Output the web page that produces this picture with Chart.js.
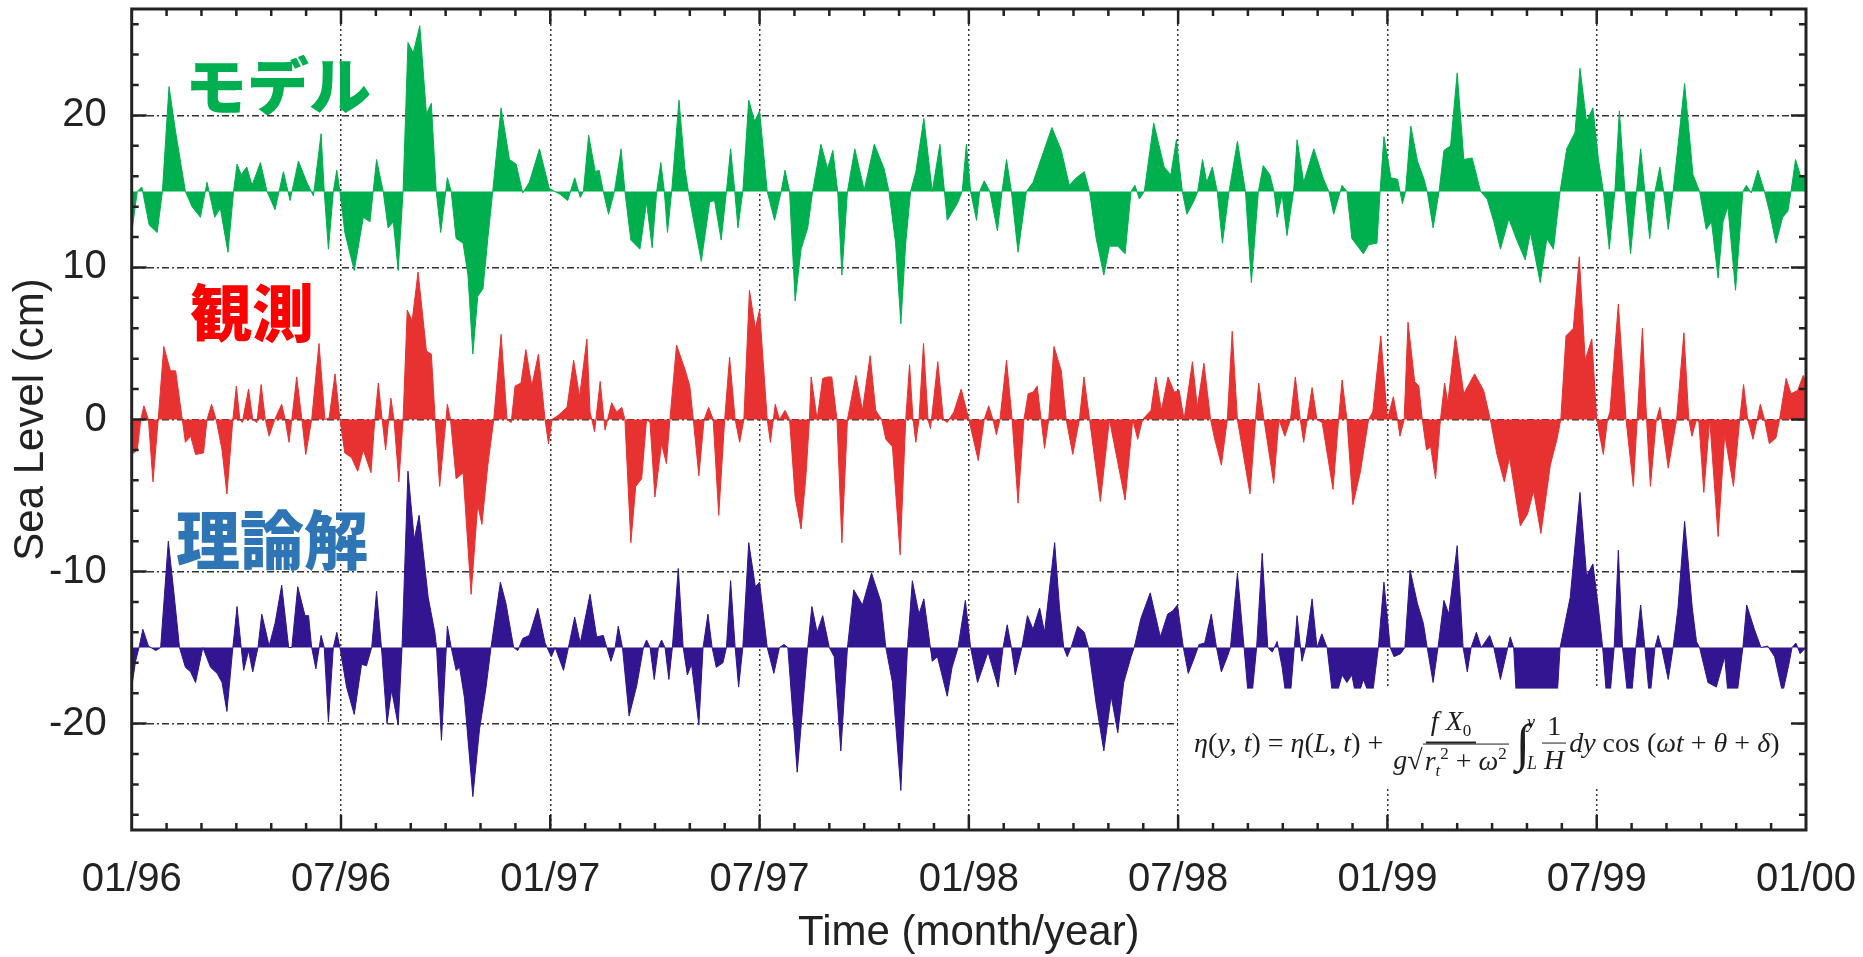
<!DOCTYPE html>
<html>
<head>
<meta charset="utf-8">
<script src="https://cdn.jsdelivr.net/npm/chart.js@4/dist/chart.umd.min.js"></script>
<style>
  html, body { margin: 0; padding: 0; background: #fff; }
  #wrap { position: relative; width: 1863px; height: 957px; }
  #wrap canvas { position: absolute; left: 0; top: 0; }
  .tag { position: absolute; font-family: "Noto Sans CJK JP", sans-serif; font-weight: 900; line-height: 1; white-space: nowrap; }
  #formula { position: absolute; left: 1194px; top: 743px; transform: translateY(-50%);
    font-family: "Liberation Serif", serif; font-size: 28px; color: #1e1e1e;
    display: flex; align-items: center; white-space: nowrap; }
  #formula i { font-style: italic; }
  .frac { display: inline-flex; flex-direction: column; align-items: center; margin: 0 3px; line-height: 1.1; }
  .frac .num { border-bottom: 2px solid #1e1e1e; padding: 0 5px 1px; }
  .frac .den { padding-top: 1px; }
  .rad { border-top: 1.5px solid #1e1e1e; padding: 0 2px; }
  .intg { display: inline-flex; align-items: center; margin: 0 2px 0 4px; }
  .intg .sym { font-size: 52px; line-height: 1; }
  .intg .lim { display: inline-flex; flex-direction: column; font-size: 18px; font-style: italic; margin-left: -3px; }
  sub, sup { font-size: 17px; }
</style>
</head>
<body>
<div id="wrap">
  <canvas id="chart" width="1863" height="957"></canvas>
  <div class="tag" style="left:185px; top:52px; font-size:62px; color:#00B050;">モデル</div>
  <div class="tag" style="left:190px; top:279px; font-size:62px; color:#FF0000;">観測</div>
  <div class="tag" style="left:176px; top:504px; font-size:64px; color:#2E75B6;">理論解</div>
  <div id="formula">
    <span><i>η</i>(<i>y</i>, <i>t</i>) = <i>η</i>(<i>L</i>, <i>t</i>) +&nbsp;</span>
    <span class="frac">
      <span class="num"><i>f X</i><sub>0</sub></span>
      <span class="den"><i>g</i>√<span class="rad"><i>r</i><sub><i>t</i></sub><sup>2</sup> + <i>ω</i><sup>2</sup></span></span>
    </span>
    <span class="intg"><span class="sym">∫</span><span class="lim"><span>y</span><span style="margin-top:20px">L</span></span></span>
    <span class="frac"><span class="num" style="border-bottom-width:1.5px">1</span><span class="den"><i>H</i></span></span>
    <span><i>dy</i> cos (<i>ωt</i> + <i>θ</i> + <i>δ</i>)</span>
  </div>
</div>
<script>
// time in months since 01/1996, sea level in cm
const xTickMonths = [0, 6, 12, 18, 24, 30, 36, 42, 48];
const xTickLabels = ['01/96', '07/96', '01/97', '07/97', '01/98', '07/98', '01/99', '07/99', '01/00'];
const yTickValues = [-20, -10, 0, 10, 20];

// モデル (offset +15)
const modelMonths = [0.00,0.16,0.29,0.50,0.73,0.88,1.07,1.26,1.54,1.73,1.97,2.16,2.38,2.54,2.76,2.92,3.02,3.14,3.30,3.45,
  3.69,3.88,4.11,4.35,4.54,4.78,5.02,5.21,5.43,5.52,5.64,5.78,5.88,5.97,6.11,6.38,6.64,6.83,7.02,7.21,
  7.35,7.50,7.64,7.78,7.92,8.07,8.26,8.45,8.59,8.73,8.86,9.05,9.16,9.30,9.50,9.64,9.78,9.92,10.07,10.21,
  10.35,10.59,10.83,11.02,11.21,11.40,11.69,11.97,12.29,12.50,12.70,12.86,12.95,13.10,13.29,13.40,13.52,13.67,13.84,14.03,
  14.14,14.31,14.57,14.76,14.92,15.05,15.17,15.27,15.36,15.48,15.69,15.86,16.00,16.33,16.57,16.71,16.90,17.05,17.17,17.29,
  17.38,17.52,17.69,17.86,18.00,18.22,18.43,18.62,18.73,18.86,19.02,19.19,19.38,19.52,19.76,19.95,20.10,20.24,20.36,20.52,
  20.73,21.00,21.29,21.57,21.71,21.90,22.05,22.19,22.33,22.48,22.71,22.95,23.17,23.38,23.67,23.81,23.93,24.05,24.22,24.31,
  24.44,24.60,24.82,24.95,25.08,25.22,25.41,25.65,25.84,26.08,26.38,26.65,26.88,27.08,27.31,27.46,27.65,27.87,28.03,28.27,
  28.48,28.65,28.76,28.89,29.03,29.30,29.60,29.79,29.95,30.12,30.25,30.46,30.56,30.70,30.82,30.98,31.12,31.27,31.46,31.70,
  31.93,32.10,32.30,32.44,32.63,32.75,32.84,32.98,33.12,33.31,33.41,33.60,33.89,34.17,34.32,34.46,34.70,34.84,34.98,35.31,
  35.46,35.70,35.79,35.90,36.10,36.29,36.43,36.52,36.67,36.86,37.05,37.14,37.31,37.48,37.62,37.81,38.00,38.19,38.43,38.67,
  38.86,39.05,39.24,39.48,39.71,39.95,40.10,40.38,40.57,40.76,40.95,41.14,41.38,41.52,41.71,41.89,42.05,42.19,42.36,42.52,
  42.65,42.81,42.97,43.14,43.26,43.38,43.52,43.67,43.81,43.92,44.05,44.19,44.52,44.76,44.95,45.14,45.29,45.48,45.62,45.76,
  45.98,46.19,46.29,46.43,46.62,46.81,46.95,47.14,47.33,47.48,47.57,47.70,47.86,48.00];
const modelLevels = [12.3,15.0,15.3,12.8,12.3,15.0,21.9,18.9,15.0,14.0,13.3,15.6,13.3,13.9,11.0,15.0,16.8,16.1,16.6,15.4,
  16.9,15.0,13.8,16.3,14.4,17.0,15.6,14.7,18.8,15.0,11.2,15.0,16.4,15.0,12.3,9.8,13.3,13.0,17.1,15.0,
  12.6,13.0,9.8,15.0,24.8,24.1,25.9,20.1,20.8,15.0,12.3,15.9,15.0,11.9,11.6,9.5,4.3,8.1,8.6,11.9,
  15.0,20.5,17.1,16.8,14.9,15.6,17.8,15.2,14.8,14.4,15.9,14.6,15.0,18.7,16.3,16.4,15.0,13.5,15.0,17.8,
  15.0,11.8,11.2,14.3,11.3,15.0,16.9,15.0,12.3,15.0,21.0,16.5,14.4,10.4,14.3,14.4,11.8,15.0,17.8,15.0,
  12.6,15.0,21.0,19.6,20.3,15.0,13.1,15.0,16.4,15.0,7.8,11.2,12.6,15.0,18.1,16.5,17.7,15.0,9.5,15.0,
  17.8,15.1,18.1,16.5,15.0,11.6,6.3,11.6,15.0,16.3,19.8,15.0,18.1,13.1,14.2,15.0,18.1,15.0,13.1,15.0,
  15.7,15.0,12.4,15.0,17.1,15.0,11.0,15.0,15.6,17.2,19.2,17.7,15.4,15.9,16.3,15.0,11.9,9.5,11.4,11.4,
  10.9,15.0,15.4,14.5,15.0,19.5,16.6,16.1,18.4,15.0,13.5,14.4,15.0,17.1,15.6,16.6,15.0,11.6,15.0,18.3,
  15.0,9.0,15.0,16.7,16.1,15.0,13.3,14.8,12.1,15.0,18.4,15.6,17.8,15.8,15.0,13.5,15.4,15.0,11.9,10.9,
  11.5,11.6,15.0,18.6,15.9,15.8,14.2,15.0,19.3,17.0,15.8,15.0,12.6,15.0,17.7,18.0,22.8,17.1,17.2,15.0,
  14.5,13.0,11.2,13.2,11.8,10.5,12.3,9.0,11.9,11.2,15.0,17.8,18.9,23.1,19.6,20.5,17.1,15.0,11.2,15.0,
  20.3,15.0,10.9,15.0,17.8,15.0,11.9,15.0,16.6,15.0,12.5,15.0,22.1,16.1,15.0,12.5,13.0,9.3,13.0,14.0,
  8.5,15.0,15.4,14.9,16.4,15.0,13.7,11.6,13.3,13.7,15.0,17.1,15.9,16.0];

// 観測 (no offset)
const obsMonths = [0.00,0.16,0.26,0.35,0.48,0.61,0.76,0.92,1.11,1.26,1.45,1.54,1.69,1.83,2.06,2.16,2.29,2.42,2.59,2.73,
  2.90,3.00,3.10,3.17,3.35,3.47,3.59,3.71,3.83,3.94,4.10,4.30,4.40,4.51,4.59,4.73,4.88,4.99,5.16,5.37,
  5.54,5.66,5.83,5.97,6.11,6.30,6.48,6.64,6.86,6.97,7.07,7.18,7.28,7.43,7.52,7.66,7.78,7.90,8.04,8.21,
  8.45,8.59,8.70,8.83,9.05,9.14,9.30,9.50,9.73,9.92,10.04,10.21,10.38,10.59,10.76,10.88,10.99,11.16,11.30,11.47,
  11.66,11.85,11.95,12.05,12.24,12.48,12.67,12.84,13.05,13.14,13.27,13.43,13.57,13.76,13.90,14.05,14.14,14.31,14.45,14.62,
  14.76,14.86,15.00,15.19,15.33,15.43,15.62,15.86,16.00,16.10,16.26,16.41,16.54,16.67,16.83,17.00,17.14,17.30,17.43,17.55,
  17.71,17.88,18.00,18.22,18.31,18.45,18.57,18.73,18.86,19.02,19.19,19.33,19.43,19.48,19.65,19.81,19.95,20.07,20.22,20.36,
  20.52,20.76,20.95,21.17,21.33,21.50,21.62,21.81,22.03,22.19,22.30,22.40,22.48,22.57,22.70,22.83,22.90,23.11,23.27,23.38,
  23.57,23.78,24.00,24.27,24.44,24.57,24.69,24.79,24.89,25.08,25.24,25.41,25.58,25.70,25.84,25.96,26.17,26.29,26.44,26.65,
  26.79,26.98,27.17,27.30,27.46,27.77,28.03,28.48,28.70,28.84,28.98,29.22,29.36,29.52,29.71,29.89,30.03,30.17,30.41,30.55,
  30.74,30.93,31.05,31.24,31.41,31.55,31.70,32.06,32.22,32.31,32.46,32.74,32.89,33.06,33.22,33.36,33.50,33.60,33.84,33.98,
  34.13,34.44,34.60,34.70,34.84,35.01,35.22,35.46,35.58,35.81,36.00,36.17,36.29,36.36,36.48,36.59,36.78,36.90,37.00,37.12,
  37.24,37.38,37.52,37.64,37.73,37.95,38.19,38.50,38.76,38.95,39.14,39.35,39.50,39.81,40.02,40.19,40.40,40.67,40.86,40.97,
  41.12,41.33,41.50,41.67,41.86,42.00,42.19,42.31,42.38,42.62,42.84,43.05,43.16,43.31,43.43,43.54,43.71,43.81,44.05,44.29,
  44.50,44.64,44.73,44.86,44.93,45.07,45.24,45.48,45.67,45.92,46.10,46.21,46.33,46.48,46.60,46.69,46.81,46.95,47.14,47.24,
  47.43,47.57,47.76,47.92,48.00];
const obsLevels = [-2.3,-2.0,0.0,0.9,0.0,-4.1,0.0,4.8,3.2,3.2,0.0,-1.5,-1.1,-2.3,-2.2,0.0,1.0,0.0,-2.0,-4.9,
  0.0,2.2,0.0,-0.2,2.0,0.0,-0.2,2.3,0.0,-1.1,0.0,1.0,0.0,-1.5,0.0,2.8,0.0,-2.3,0.0,5.0,
  0.0,0.1,3.0,0.0,-2.2,-2.5,-3.4,-2.0,-3.5,0.0,2.4,0.0,-2.0,1.4,0.0,-4.1,0.0,7.2,6.5,9.7,
  4.5,4.3,0.0,-4.4,1.0,0.0,-3.9,-3.5,-11.5,-5.6,-6.9,-3.0,0.0,5.6,0.0,-0.2,2.2,2.4,4.6,2.2,
  4.3,0.0,-1.6,0.0,0.3,0.8,3.9,1.5,5.3,0.5,-0.8,2.5,-0.7,1.1,0.5,0.8,0.0,-8.1,-4.4,-3.9,
  0.0,-0.2,-5.1,-1.6,-2.9,0.0,4.9,3.3,2.2,0.0,-3.7,0.0,0.8,0.0,-6.3,0.0,4.1,0.0,-1.5,0.0,
  8.5,6.0,7.2,0.0,-1.5,1.0,0.0,0.6,0.0,-5.1,-7.2,-3.7,0.0,2.8,0.0,2.7,2.8,2.8,0.0,-8.1,
  0.0,2.9,0.6,4.2,0.6,0.0,-1.3,-1.8,-8.9,0.0,3.6,0.0,-1.5,0.0,5.0,0.0,-0.6,3.8,0.0,-0.2,
  0.5,2.0,0.0,-2.7,0.0,0.9,0.0,-1.0,0.0,3.9,0.0,-5.5,0.0,1.7,1.8,2.2,-1.9,0.0,4.8,3.2,
  0.0,-2.3,0.0,2.8,0.0,-5.4,0.0,-5.3,0.0,-1.3,0.0,0.6,2.8,0.6,2.8,1.8,1.9,0.0,3.8,0.8,
  3.7,0.0,-1.3,-3.0,0.0,5.8,0.0,-4.9,0.0,2.4,0.0,-4.2,0.0,-1.1,0.0,2.8,0.0,-1.5,2.1,0.0,
  -0.2,-4.6,0.0,2.6,0.0,-5.6,-3.5,0.0,0.5,5.5,0.0,1.5,0.0,-1.1,0.0,6.4,2.5,2.2,0.0,-2.0,
  -1.8,-3.9,0.0,2.4,1.1,5.5,1.7,3.0,1.9,0.0,-2.3,-4.1,-2.5,-7.0,-6.2,-4.7,-7.5,-3.0,-1.3,0.0,
  5.5,6.0,10.7,3.9,5.3,0.0,-2.3,0.0,0.5,7.6,0.0,-4.4,0.0,6.0,0.0,-4.4,0.0,0.8,-3.2,0.0,
  5.7,0.0,-1.1,0.0,-0.2,-4.8,0.0,-7.7,-1.0,-4.4,0.0,2.3,0.0,-1.3,0.0,1.0,0.0,-1.6,-1.2,0.0,
  2.7,1.7,1.9,2.9,2.5];

// 理論解 (offset -15)
const theoryMonths = [0.00,0.11,0.21,0.32,0.48,0.69,0.83,1.05,1.21,1.37,1.54,1.69,1.83,2.04,2.26,2.45,2.59,2.73,2.90,3.02,
  3.14,3.21,3.35,3.47,3.62,3.73,3.94,4.11,4.30,4.50,4.59,4.76,4.97,5.07,5.16,5.28,5.43,5.52,5.64,5.78,
  5.88,5.97,6.16,6.38,6.59,6.73,6.88,7.02,7.16,7.32,7.45,7.64,7.75,7.92,8.10,8.24,8.50,8.69,8.74,8.88,
  9.05,9.16,9.30,9.40,9.54,9.78,9.97,10.16,10.30,10.57,10.73,10.95,11.07,11.21,11.40,11.64,11.85,12.03,12.14,12.38,
  12.52,12.70,12.86,13.14,13.33,13.52,13.62,13.74,13.86,13.95,14.07,14.26,14.48,14.67,14.76,14.86,14.98,15.10,15.19,15.29,
  15.40,15.50,15.67,15.81,15.93,16.05,16.26,16.38,16.52,16.64,16.76,16.95,17.05,17.17,17.30,17.40,17.52,17.69,17.88,18.00,
  18.22,18.41,18.57,18.70,18.81,19.08,19.27,19.38,19.50,19.65,19.81,20.00,20.14,20.33,20.52,20.70,20.95,21.21,21.48,21.62,
  21.81,22.05,22.24,22.38,22.57,22.71,22.95,23.10,23.38,23.52,23.69,23.90,24.05,24.25,24.55,24.84,24.98,25.10,25.22,25.33,
  25.52,25.68,25.84,26.03,26.17,26.46,26.60,26.72,26.82,26.93,27.12,27.31,27.43,27.65,27.87,28.08,28.27,28.44,28.65,28.74,
  28.93,29.20,29.49,29.70,29.84,29.98,30.15,30.29,30.46,30.60,30.76,30.95,31.10,31.24,31.41,31.50,31.70,31.89,32.06,32.25,
  32.41,32.57,32.70,32.84,32.98,33.17,33.33,33.41,33.55,33.65,33.84,33.98,34.12,34.27,34.46,34.70,34.84,34.98,35.12,35.31,
  35.55,35.74,35.90,36.08,36.19,36.38,36.50,36.65,36.86,37.03,37.14,37.31,37.45,37.62,37.76,38.00,38.17,38.29,38.40,38.55,
  38.69,38.93,39.05,39.24,39.45,39.52,39.62,39.71,39.90,40.38,40.86,40.95,41.24,41.52,41.71,41.89,42.05,42.17,42.33,42.50,
  42.62,42.74,42.95,43.12,43.26,43.38,43.52,43.67,43.76,43.86,44.05,44.19,44.33,44.52,44.74,44.86,44.95,45.19,45.43,45.67,
  45.79,46.00,46.19,46.30,46.52,46.71,46.90,47.10,47.33,47.50,47.60,47.71,47.83,48.00];
const theoryLevels = [-17.6,-15.9,-15.0,-13.8,-14.9,-15.2,-15.0,-8.0,-11.4,-15.0,-16.3,-16.6,-17.3,-15.0,-16.3,-16.7,-17.3,-19.2,-15.0,-12.3,
  -15.0,-16.5,-15.2,-16.6,-15.0,-12.8,-14.9,-13.4,-10.9,-15.0,-15.0,-11.0,-12.9,-12.9,-15.0,-16.4,-14.2,-15.0,-19.9,-15.0,
  -14.0,-15.0,-17.6,-19.4,-16.1,-16.2,-15.0,-11.3,-15.0,-20.0,-17.8,-20.1,-15.0,-3.4,-7.9,-6.3,-11.7,-14.0,-15.0,-21.1,
  -13.6,-15.0,-16.5,-16.3,-18.3,-24.8,-20.4,-17.6,-15.0,-10.7,-12.1,-15.0,-15.2,-14.4,-14.2,-12.4,-14.7,-15.6,-15.0,-16.5,
  -15.0,-13.0,-14.7,-11.5,-14.3,-14.2,-15.0,-15.9,-15.0,-13.6,-15.0,-19.5,-17.5,-15.0,-14.5,-15.0,-17.1,-15.0,-14.5,-15.0,
  -17.1,-15.0,-9.8,-15.0,-16.8,-16.1,-20.1,-15.0,-12.8,-15.0,-16.3,-16.0,-15.0,-10.6,-15.0,-17.6,-15.0,-8.1,-11.0,-10.7,
  -15.0,-16.7,-15.0,-14.8,-15.0,-23.2,-18.0,-15.0,-12.3,-14.0,-12.9,-15.0,-15.6,-21.8,-15.0,-11.2,-12.2,-10.1,-12.0,-15.0,
  -17.3,-24.4,-15.0,-10.6,-12.8,-11.8,-15.9,-15.6,-18.2,-16.3,-15.0,-11.9,-15.0,-17.3,-15.3,-17.6,-15.0,-13.5,-15.0,-16.8,
  -15.0,-12.9,-13.8,-12.4,-14.0,-8.1,-12.4,-15.0,-15.6,-15.0,-13.6,-14.0,-15.0,-18.7,-21.8,-18.2,-20.6,-17.3,-15.6,-15.0,
  -13.1,-11.4,-14.3,-12.8,-12.6,-12.2,-15.0,-16.7,-15.7,-14.8,-14.7,-12.8,-15.0,-16.6,-15.6,-15.0,-10.1,-15.0,-19.5,-15.0,
  -8.8,-15.0,-15.3,-14.6,-16.3,-19.5,-15.0,-12.9,-15.9,-15.0,-11.8,-15.0,-14.1,-15.0,-18.8,-16.8,-17.3,-16.8,-18.5,-17.1,
  -18.5,-15.0,-10.7,-15.0,-15.6,-15.4,-15.0,-9.9,-12.1,-13.4,-15.0,-17.3,-15.0,-11.9,-12.8,-8.3,-15.0,-16.6,-15.0,-14.0,
  -15.0,-14.2,-15.0,-17.1,-15.0,-14.3,-15.0,-18.8,-19.5,-19.5,-18.5,-15.0,-11.7,-4.8,-10.3,-9.5,-12.4,-15.0,-19.5,-15.0,
  -8.6,-15.0,-19.5,-15.0,-12.2,-15.0,-18.5,-15.0,-14.2,-15.0,-17.1,-15.0,-12.4,-6.7,-12.4,-14.6,-15.0,-17.3,-17.6,-15.6,
  -18.8,-18.5,-15.0,-12.2,-13.8,-15.0,-14.9,-15.6,-18.0,-16.2,-15.0,-14.7,-15.4,-15.0];

// white panel that carries the formula (in axis units)
const formulaBox = { x0: 30.0, x1: 47.7, yTop: -17.7, yBottom: -24.2 };

const pts = (xs, ys) => xs.map((m, i) => ({ x: m, y: ys[i] }));

const axisColor = '#222';

const framePlugin = {
  id: 'frame',
  afterDatasetsDraw(chart) {
    const { ctx, chartArea: a, scales: { x, y } } = chart;
    ctx.save();
    // formula panel
    const bx0 = x.getPixelForValue(formulaBox.x0);
    const bx1 = x.getPixelForValue(formulaBox.x1);
    const by0 = y.getPixelForValue(formulaBox.yTop);
    const by1 = y.getPixelForValue(formulaBox.yBottom);
    ctx.fillStyle = '#fff';
    ctx.fillRect(bx0, by0, bx1 - bx0, by1 - by0);

    // box frame
    ctx.strokeStyle = axisColor;
    ctx.lineWidth = 3;
    ctx.strokeRect(a.left, a.top, a.right - a.left, a.bottom - a.top);

    // inward ticks
    ctx.lineWidth = 2.5;
    ctx.beginPath();
    for (let m = 1; m < 48; m++) {
      const px = x.getPixelForValue(m);
      const len = m % 6 === 0 ? 15 : 7;
      ctx.moveTo(px, a.bottom); ctx.lineTo(px, a.bottom - len);
      ctx.moveTo(px, a.top); ctx.lineTo(px, a.top + len);
    }
    for (let v = -26; v <= 26; v += 2) {
      const py = y.getPixelForValue(v);
      const len = v % 10 === 0 ? 15 : 7;
      ctx.moveTo(a.left, py); ctx.lineTo(a.left + len, py);
      ctx.moveTo(a.right, py); ctx.lineTo(a.right - len, py);
    }
    ctx.stroke();
    ctx.restore();
  }
};

const seriesStyle = (color, base) => ({
  borderColor: color,
  backgroundColor: color,
  borderWidth: 1,
  pointRadius: 0,
  tension: 0,
  fill: { value: base }
});

new Chart(document.getElementById('chart'), {
  type: 'line',
  data: {
    datasets: [
      { label: 'モデル', data: pts(modelMonths, modelLevels), ...seriesStyle('#00B04F', 15) },
      { label: '観測', data: pts(obsMonths, obsLevels), ...seriesStyle('#E83232', 0) },
      { label: '理論解', data: pts(theoryMonths, theoryLevels), ...seriesStyle('#311591', -15) }
    ]
  },
  options: {
    responsive: false,
    animation: false,
    events: [],
    layout: { padding: { left: 6, right: 57, top: 9, bottom: 0 } },
    plugins: { legend: { display: false }, tooltip: { enabled: false } },
    scales: {
      x: {
        type: 'linear',
        min: 0,
        max: 48,
        afterBuildTicks: s => { s.ticks = xTickMonths.map(v => ({ value: v })); },
        afterFit: s => { s.height = 127; s.paddingLeft = 0; s.paddingRight = 0; },
        ticks: {
          autoSkip: false,
          maxRotation: 0,
          padding: 26,
          color: axisColor,
          font: { family: 'Liberation Sans, Arial, sans-serif', size: 40 },
          callback: v => xTickLabels[xTickMonths.indexOf(v)]
        },
        grid: { color: '#333', lineWidth: 1.5, drawTicks: false },
        border: { display: false, dash: [2, 3] },
        title: {
          display: true,
          text: 'Time (month/year)',
          color: axisColor,
          font: { family: 'Liberation Sans, Arial, sans-serif', size: 42, lineHeight: 1.1 },
          padding: 0
        }
      },
      y: {
        min: -27,
        max: 27,
        afterBuildTicks: s => { s.ticks = yTickValues.map(v => ({ value: v })); },
        afterFit: s => { s.width = 125.7; s.paddingTop = 0; s.paddingBottom = 0; },
        ticks: {
          padding: 25,
          color: axisColor,
          font: { family: 'Liberation Sans, Arial, sans-serif', size: 40 },
          callback: v => String(v)
        },
        grid: { color: '#333', lineWidth: 1.5, drawTicks: false },
        border: { display: false, dash: [7, 3, 2, 3] },
        title: {
          display: true,
          text: 'Sea Level (cm)',
          color: axisColor,
          font: { family: 'Liberation Sans, Arial, sans-serif', size: 42, lineHeight: 1.2 },
          padding: 0
        }
      }
    }
  },
  plugins: [framePlugin]
});
</script>
</body>
</html>
